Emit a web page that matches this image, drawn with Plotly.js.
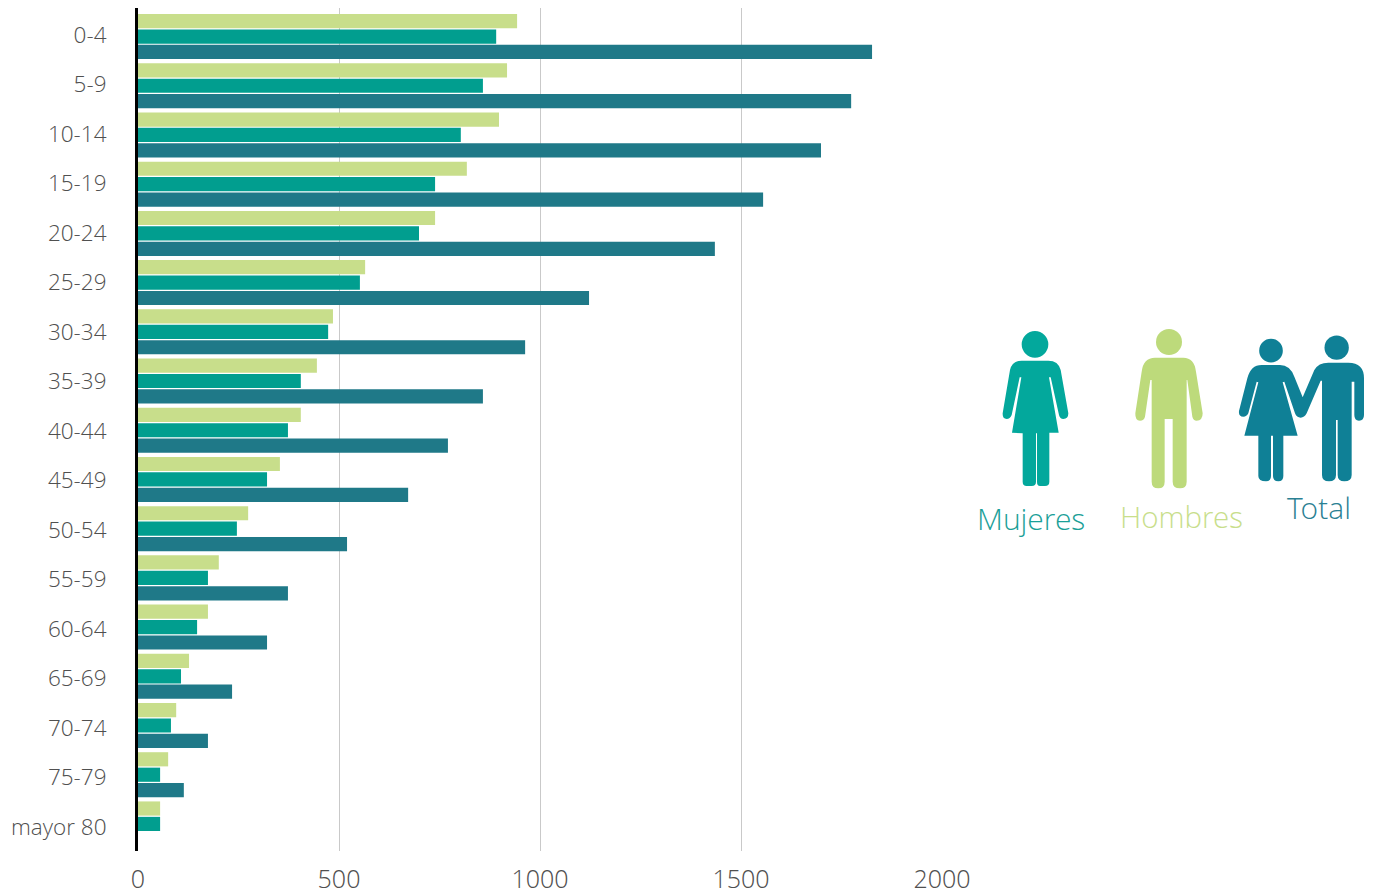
<!DOCTYPE html>
<html><head><meta charset="utf-8">
<script src="https://cdn.plot.ly/plotly-3.0.1.min.js"></script>
<style>html,body{margin:0;padding:0;background:#fff}#c{width:1375px;height:892px}</style>
</head><body><div id="c"></div>
<script>
const categories=['0-4','5-9','10-14','15-19','20-24','25-29','30-34','35-39','40-44','45-49','50-54','55-59','60-64','65-69','70-74','75-79','mayor 80'];
const hombres=[943,918,898,818,739,565,485,445,405,353,274,201,174,127,95,75,55];
const mujeres=[891,858,803,739,699,552,473,405,373,321,246,174,147,107,82,55,55];
const total=[1826,1774,1699,1555,1435,1122,963,858,771,672,520,373,321,234,174,114,null];
const W=1375,H=892,mL=138,mR=433,mT=8,mB=41;
const pw=W-mL-mR,ph=H-mT-mB;
const px=z=>(960+z/3-mL)/pw, py=z=>1-(310+z/3-mT)/ph;
function pic(d,color){
  const path=d.trim().split(/\s+/).map(tok=>{
    const m=tok.match(/^([MLQZ]?)(?:(-?[\d.]+),(-?[\d.]+))?$/);
    if(!m)return tok;
    if(m[2]===undefined)return m[1];
    return m[1]+px(+m[2]).toFixed(5)+','+py(+m[3]).toFixed(5);
  }).join(' ');
  return {type:'path',xref:'paper',yref:'paper',path:path,fillcolor:color,line:{width:0},layer:'above'};
}
function head(cx,cy,r,color){
  return {type:'circle',xref:'paper',yref:'paper',x0:px(cx-r),x1:px(cx+r),y0:py(cy+r),y1:py(cy-r),fillcolor:color,line:{width:0},layer:'above'};
}
const cM='#03A89C',cH='#BDDA7B',cT='#0F8096';
const woman='M185,152 L265,152 Q295,152 302,180 L325,310 Q325,327 310,327 Q300,327 297,315 L272,202 L267,202 L296,368 L268,368 L268,515 Q268,528 255,528 L240,528 Q231,528 231,515 L231,370 L228,370 L228,515 Q228,528 215,528 L200,528 Q188,528 188,515 L188,370 L156,368 L184,202 L179,202 L155,315 Q150,327 140,327 Q127,327 128,310 L150,180 Q157,152 185,152 Z';
const man='M585,143 L670,143 Q703,143 708,185 L728,310 Q728,332 710,332 Q700,332 697,320 L682,210 L680,210 L680,515 Q680,535 660,535 Q638,535 638,515 L638,327 L614,327 L614,515 Q614,535 595,535 Q575,535 575,515 L575,210 L571,210 L555,320 Q552,332 540,332 Q525,332 526,310 L545,185 Q550,143 585,143 Z';
const pair='M905,165 L960,165 Q990,165 1003,200 L1028,262 L1063,180 Q1075,158 1105,158 L1165,158 Q1212,158 1212,205 L1212,315 Q1212,332 1197,332 Q1183,332 1183,315 L1183,215 L1175,215 L1175,495 Q1175,514 1153,514 Q1133,514 1133,495 L1133,330 L1128,330 L1128,495 Q1128,514 1107,514 Q1086,514 1086,495 L1086,212 L1082,212 L1040,310 Q1033,323 1022,323 Q1010,323 1005,310 L973,215 L968,217 L1013,377 L970,377 L970,498 Q970,514 955,514 Q939,514 939,498 L939,377 L933,377 L933,498 Q933,514 918,514 Q895,514 895,498 L895,377 L853,377 L895,217 L890,215 L865,310 Q860,320 850,320 Q835,320 837,303 L862,205 Q872,165 905,165 Z';
const font='"Open Sans Light","Open Sans",sans-serif';
function bar(name,vals,color){return {type:'bar',orientation:'h',name:name,y:categories,x:vals,marker:{color:color,line:{width:0}},hoverinfo:'x+y'};}
function label(text,zx,zy,color,size){return {xref:'paper',yref:'paper',x:px(zx),y:py(zy),text:text,showarrow:false,xanchor:'center',yanchor:'middle',font:{family:font,size:size,color:color}};}
Plotly.newPlot('c',[
  bar('Hombres',hombres,'#C8DE8B'),
  bar('Mujeres',mujeres,'#019E8F'),
  bar('Total',total,'#1F7988'),
  {type:'scatter',mode:'markers',yaxis:'y2',y:categories,x:categories.map(()=>0),marker:{opacity:0,size:1},hoverinfo:'skip',showlegend:false}
],{
  width:W,height:H,margin:{l:mL,r:mR,t:mT,b:mB,pad:0},
  paper_bgcolor:'#fff',plot_bgcolor:'#fff',showlegend:false,
  barmode:'group',bargap:0.06,bargroupgap:0.08,
  xaxis:{range:[0,2000],tickvals:[0,500,1000,1500,2000],showgrid:true,gridcolor:'#c9c9c9',gridwidth:1,zeroline:false,showline:false,ticks:'outside',ticklen:6,tickcolor:'rgba(0,0,0,0)',tickfont:{family:font,size:25,color:'#505050'}},
  yaxis:{type:'category',range:[16.55,-0.58],showgrid:false,zeroline:false,showline:true,linecolor:'#000',linewidth:3,ticks:'',showticklabels:false},
  yaxis2:{type:'category',overlaying:'y',side:'left',anchor:'x',range:[16.485,-0.545],showgrid:false,zeroline:false,showline:false,ticks:'outside',ticklen:26,tickcolor:'rgba(0,0,0,0)',tickfont:{family:font,size:22.5,color:'#505050'}},
  shapes:[pic(woman,cM),head(225,103,40,cM),pic(man,cH),head(627,96,39,cH),pic(pair,cT),head(933,122,35.5,cT),head(1130,113,36.5,cT)],
  annotations:[label('Mujeres',213,626,'#1BA098',30),label('Hombres',665,620,'#C8DE8B',29.5),label('Total',1077,591,'#2A8093',30)]
},{displayModeBar:false,responsive:false});
</script></body></html>
